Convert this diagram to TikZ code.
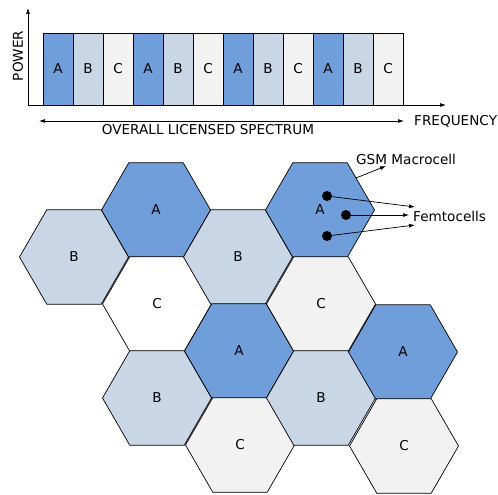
\documentclass[tikz,border=0pt]{standalone}
\usepackage{fontspec}
\setmainfont{DejaVu Sans}
\usetikzlibrary{shapes.geometric,arrows.meta}
\definecolor{cA}{HTML}{6F9EDB}
\definecolor{cB}{HTML}{C8D6E6}
\definecolor{cC}{HTML}{F2F2F2}
\begin{document}
\begin{tikzpicture}[x=1pt,y=-1pt,
  font=\fontsize{13.6}{16}\selectfont,
  hexcell/.style={regular polygon, regular polygon sides=6, minimum size=109pt, inner sep=0pt, outer sep=0pt, draw=black, line width=0.7pt},
  barcell/.style={draw=black, line width=0.7pt, minimum width=30pt, minimum height=72pt, inner sep=0pt, outer sep=0pt, anchor=north west},
  tipline/.style={-{Latex[length=6pt,width=4pt]}, line width=0.7pt},
  femto/.style={circle, fill=black, minimum size=10pt, inner sep=0pt}]
\useasboundingbox (0,0) rectangle (498,495);
% spectrum chart
\foreach \i/\l/\c in {0/A/cA,1/B/cB,2/C/cC,3/A/cA,4/B/cB,5/C/cC,6/A/cA,7/B/cB,8/C/cC,9/A/cA,10/B/cB,11/C/cC}{
  \node[barcell, fill=\c] (bar\i) at ({43+30*\i},33) {\l};
}
\coordinate (O) at (28,105);
\coordinate (ytop) at (28,8);
\coordinate (xend) at (446,105);
\draw[tipline] (O) -- (ytop);
\draw[tipline] (O) -- (xend);
\node[rotate=90] (power) at (18,56) {POWER};
\coordinate (sL) at (39,121);
\coordinate (sR) at (404,121);
\draw[{Latex[length=6pt,width=4pt]}-{Latex[length=6pt,width=4pt]}, line width=0.7pt] (sL) -- (sR);
\node (spec) at (208,130) {OVERALL LICENSED SPECTRUM};
\node[anchor=west, inner sep=0pt] (freq) at (414,121) {FREQUENCY};
% hexagons
\node[hexcell, fill=cB] (h0a) at (74,257) {B};
\node[hexcell, fill=cA] (h1a) at (156,210) {A};
\node[hexcell, fill=white] (h1b) at (157,304) {C};
\node[hexcell, fill=cB] (h1c) at (157,398) {B};
\node[hexcell, fill=cB] (h2a) at (238,257) {B};
\node[hexcell, fill=cA] (h2b) at (239,351) {A};
\node[hexcell, fill=cC] (h2c) at (240,445) {C};
\node[hexcell, fill=cA] (h3a) at (320,210) {A};
\node[hexcell, fill=cC] (h3b) at (321,304) {C};
\node[hexcell, fill=cB] (h3c) at (321,398) {B};
\node[hexcell, fill=cA] (h4a) at (403,352) {A};
\node[hexcell, fill=cC] (h4b) at (404,446) {C};
% femtocells
\node[femto] (f1) at (327,196) {};
\node[femto] (f2) at (346,215) {};
\node[femto] (f3) at (327,236) {};
\node[anchor=west, inner sep=0pt] (femtotxt) at (413,216) {Femtocells};
\coordinate (e1) at (415,207);
\coordinate (e2) at (409,215);
\coordinate (e3) at (415,225);
\draw[tipline] (f1.center) -- (e1);
\draw[tipline] (f2.center) -- (e2);
\draw[tipline] (f3.center) -- (e3);
% GSM macrocell
\node[anchor=west, inner sep=0pt] (gsm) at (356,159) {GSM Macrocell};
\coordinate (g0) at (356,178);
\coordinate (g1) at (386,166);
\draw[tipline] (g0) -- (g1);
\end{tikzpicture}
\end{document}
